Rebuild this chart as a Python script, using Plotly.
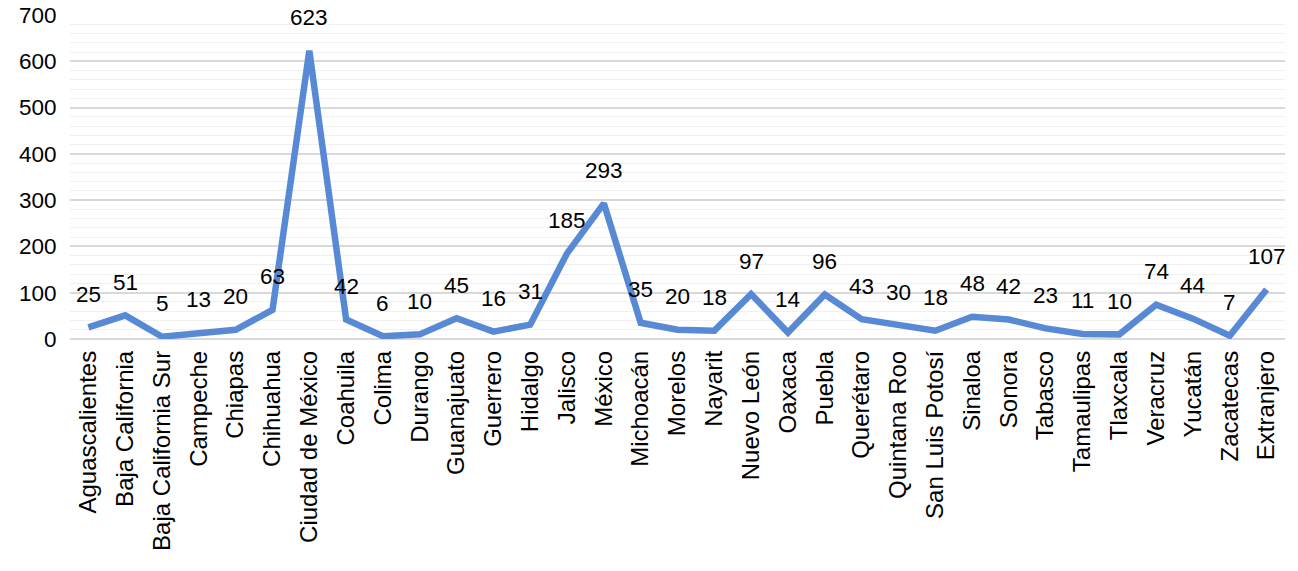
import plotly.graph_objects as go

categories = ["Aguascalientes", "Baja California", "Baja California Sur", "Campeche", "Chiapas",
              "Chihuahua", "Ciudad de México", "Coahuila", "Colima", "Durango", "Guanajuato",
              "Guerrero", "Hidalgo", "Jalisco", "México", "Michoacán", "Morelos", "Nayarit",
              "Nuevo León", "Oaxaca", "Puebla", "Querétaro", "Quintana Roo", "San Luis Potosí",
              "Sinaloa", "Sonora", "Tabasco", "Tamaulipas", "Tlaxcala", "Veracruz", "Yucatán",
              "Zacatecas", "Extranjero"]
values = [25, 51, 5, 13, 20, 63, 623, 42, 6, 10, 45, 16, 31, 185, 293, 35, 20, 18, 97, 14, 96,
          43, 30, 18, 48, 42, 23, 11, 10, 74, 44, 7, 107]

FONT = "Liberation Sans, Arial"
FS = 22.5

fig = go.Figure()
fig.add_trace(go.Scatter(
    x=categories, y=values, mode="lines",
    line=dict(color="#5889D4", width=6.5),
    hoverinfo="x+y",
))

for c, v in zip(categories, values):
    fig.add_annotation(x=c, y=v, text=str(v), showarrow=False, yanchor="middle",
                       yshift=33, font=dict(family=FONT, size=FS, color="#000000"))

fig.update_layout(
    width=1298, height=571,
    margin=dict(l=70, r=13, t=15, b=232),
    plot_bgcolor="white", paper_bgcolor="white",
    showlegend=False,
    font=dict(family=FONT, size=FS, color="#000000"),
    xaxis=dict(tickangle=-90, showgrid=False, showline=False, ticks="", automargin=False,
               range=[-0.5, len(categories) - 0.5], tickfont=dict(size=24),
               ticklabelstandoff=6),
    yaxis=dict(range=[0, 700], dtick=100, showgrid=True, gridcolor="#D9D9D9", gridwidth=1.5,
               zeroline=True, zerolinecolor="#D9D9D9", zerolinewidth=1.5, automargin=False,
               minor=dict(dtick=20, showgrid=True, gridcolor="#F0F0F0", gridwidth=1),
               tickfont=dict(size=FS), ticksuffix="  "),
)

fig.write_html("out.html")
